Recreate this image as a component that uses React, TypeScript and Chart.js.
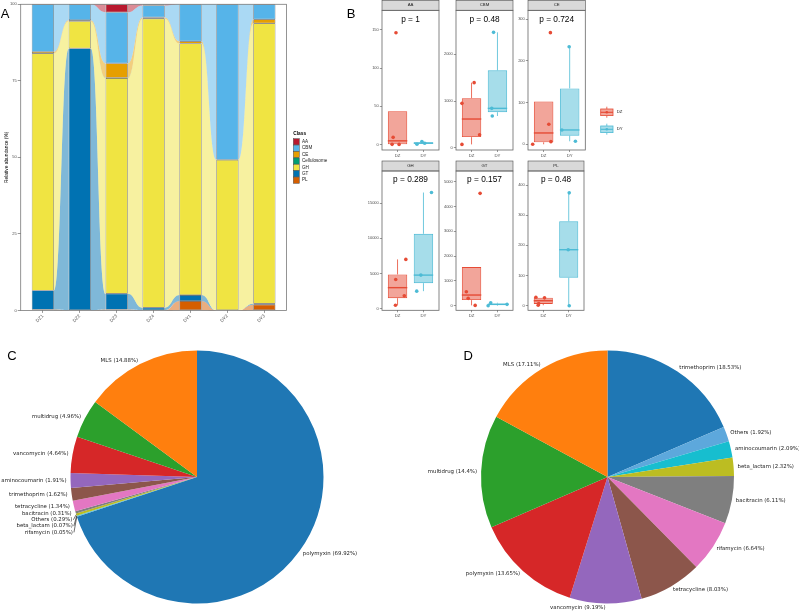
import React, { useEffect, useRef } from 'react';
import { Chart, registerables } from 'chart.js';

Chart.register(...registerables);

const SANS = '"Liberation Sans", Arial, Helvetica, sans-serif';
const DEJAVU = '"DejaVu Sans", sans-serif';

/* ---------- A: CAZyme class composition per sample (%) ---------- */
const samples = ['DZ1', 'DZ2', 'DZ3', 'DZ4', 'DY1', 'DY2', 'DY3'];
const classNames = ['AA', 'CBM', 'CE', 'Cellulosome', 'GH', 'GT', 'PL'];
const classColors = ['#B8182E', '#56B4E9', '#E69F00', '#009E73', '#F0E442', '#0072B2', '#D55E00'];
const abundanceAA = [0, 0, 2.6, 0.4, 0, 0, 0];
const abundanceCBM = [15.5, 5.2, 16.7, 3.9, 12.1, 50.8, 4.9];
const abundanceCE = [0.5, 0.3, 4.7, 0.4, 0.7, 0, 1.3];
const abundanceCellulosome = [0, 0, 0.1, 0, 0, 0, 0];
const abundanceGH = [77.5, 8.9, 70.45, 94.4, 82.2, 49.2, 91.6];
const abundanceGT = [6.2, 85.6, 5.15, 0.9, 1.95, 0, 0.35];
const abundancePL = [0.3, 0, 0.3, 0, 3.05, 0, 1.85];
const abundanceTicks = [0, 25, 50, 75, 100];

/* ---------- B: gene abundance per class, DZ vs DY ---------- */
const groups = ['DZ', 'DY'];
const groupColors = ['#E64B35', '#4DBBD5'];
const facetClasses = ['AA', 'CBM', 'CE', 'GH', 'GT', 'PL'];
const facetPValues = ['1', '0.48', '0.724', '0.289', '0.157', '0.48'];

const countsAA_DZ = [146, 9.6, 0.5, 0.4];
const countsAA_DY = [0.6, 2.0, 4.2];
const countsCBM_DZ = [950, 1393, 279, 71];
const countsCBM_DY = [2471, 843, 679];
const countsCE_DZ = [0, 268, 48, 6.4];
const countsCE_DY = [234, 34.4, 7.2];
const countsGH_DZ = [4143, 7000, 1810, 476];
const countsGH_DY = [16524, 4762, 2476];
const countsGT_DZ = [4530, 565, 296, 13];
const countsGT_DY = [0, 121, 54];
const countsPL_DZ = [28, 26, 7, 1.5];
const countsPL_DY = [374, 185.6, 0];

// horizontal jitter of the sample points, in category units
const jitterAA_DZ = [-0.06, -0.17, -0.21, 0.06];
const jitterAA_DY = [-0.25, 0.05, -0.06];
const jitterCBM_DZ = [-0.37, 0.1, 0.31, -0.37];
const jitterCBM_DY = [-0.15, -0.22, -0.2];
const jitterCE_DZ = [-0.42, 0.26, 0.2, 0.28];
const jitterCE_DY = [-0.02, -0.3, 0.22];
const jitterGH_DZ = [-0.07, 0.32, 0.26, -0.08];
const jitterGH_DY = [0.31, -0.1, -0.26];
const jitterGT_DZ = [0.33, -0.2, -0.13, 0.14];
const jitterGT_DY = [-0.36, -0.26, 0.37];
const jitterPL_DZ = [-0.29, 0.05, -0.18, -0.2];
const jitterPL_DY = [0.02, -0.02, 0.02];

const ticksAA = [0, 50, 100, 150];
const ticksCBM = [0, 1000, 2000];
const ticksCE = [0, 100, 200, 300];
const ticksGH = [0, 5000, 10000, 15000];
const ticksGT = [0, 1000, 2000, 3000, 4000, 5000];
const ticksPL = [0, 100, 200, 300, 400];

/* ---------- C / D: ARG type composition (%) ---------- */
const argNamesC = ['polymyxin', 'MLS', 'multidrug', 'vancomycin', 'aminocoumarin', 'trimethoprim', 'tetracycline', 'bacitracin', 'Others', 'beta_lactam', 'rifamycin'];
const argSharesC = [69.92, 14.88, 4.96, 4.64, 1.91, 1.62, 1.34, 0.31, 0.29, 0.07, 0.05];
const argNamesD = ['trimethoprim', 'MLS', 'multidrug', 'polymyxin', 'vancomycin', 'tetracycline', 'rifamycin', 'bacitracin', 'beta_lactam', 'aminocoumarin', 'Others'];
const argSharesD = [18.53, 17.11, 14.4, 13.65, 9.19, 8.03, 6.64, 6.11, 2.32, 2.09, 1.92];
const pieColors = ['#1f77b4', '#ff7f0e', '#2ca02c', '#d62728', '#9467bd', '#8c564b', '#e377c2', '#7f7f7f', '#bcbd22', '#17becf', '#5DA8DC'];

/* ---------- assembled tables ---------- */
const abundanceByClass = [abundanceAA, abundanceCBM, abundanceCE, abundanceCellulosome, abundanceGH, abundanceGT, abundancePL];
const stackOrder = [6, 5, 4, 3, 2, 1, 0]; // PL at the bottom, AA on top
const facetCounts = [
  [countsAA_DZ, countsAA_DY], [countsCBM_DZ, countsCBM_DY], [countsCE_DZ, countsCE_DY],
  [countsGH_DZ, countsGH_DY], [countsGT_DZ, countsGT_DY], [countsPL_DZ, countsPL_DY],
];
const facetJitter = [
  [jitterAA_DZ, jitterAA_DY], [jitterCBM_DZ, jitterCBM_DY], [jitterCE_DZ, jitterCE_DY],
  [jitterGH_DZ, jitterGH_DY], [jitterGT_DZ, jitterGT_DY], [jitterPL_DZ, jitterPL_DY],
];
const facetTicks = [ticksAA, ticksCBM, ticksCE, ticksGH, ticksGT, ticksPL];

/* ---------- layout ---------- */
const A_CANVAS = { left: 0, top: 0, width: 345, height: 330 };
const A_PLOT = { left: 20.7, top: 4.3, right: 286.5, bottom: 310.4 };

const facetCols = [
  { left: 381.5, right: 439.2 },
  { left: 455.7, right: 513.3 },
  { left: 528, right: 585.3 },
];
const facetRows = [
  { stripTop: 0.3, top: 10.3, bottom: 150, canvasTop: 0, canvasBottom: 161 },
  { stripTop: 161, top: 171, bottom: 310.3, canvasTop: 160, canvasBottom: 323 },
];
const facetYRange = [[-6.9, 175.3], [-49, 2943], [-13.7, 321.6], [-250, 19590], [-185, 5431], [-15.2, 446.4]];

const PIE_C = { left: 0, top: 330, width: 400, height: 281, padding: { left: 70.5, top: 20.5, right: 76.5, bottom: 7.5 } };
const PIE_D = { left: 400, top: 330, width: 399, height: 281, padding: { left: 81, top: 20.5, right: 65, bottom: 7.5 } };

function hexToRgba(hex: string, a: number) {
  const n = parseInt(hex.slice(1), 16);
  return `rgba(${(n >> 16) & 255},${(n >> 8) & 255},${n & 255},${a})`;
}

function quantile7(sorted: number[], p: number) {
  const h = (sorted.length - 1) * p;
  const lo = Math.floor(h);
  const hi = Math.min(lo + 1, sorted.length - 1);
  return sorted[lo] + (h - lo) * (sorted[hi] - sorted[lo]);
}

function boxStats(values: number[]) {
  const s = [...values].sort((a, b) => a - b);
  const q1 = quantile7(s, 0.25);
  const med = quantile7(s, 0.5);
  const q3 = quantile7(s, 0.75);
  const iqr = q3 - q1;
  const inside = s.filter((v) => v >= q1 - 1.5 * iqr && v <= q3 + 1.5 * iqr);
  return { q1, med, q3, lo: inside[0], hi: inside[inside.length - 1] };
}

function line(ctx: CanvasRenderingContext2D, x0: number, y0: number, x1: number, y1: number) {
  ctx.beginPath();
  ctx.moveTo(x0, y0);
  ctx.lineTo(x1, y1);
  ctx.stroke();
}

/* ---------- A: stacked bars with alluvial flows ---------- */
const flowPlugin = {
  id: 'alluvialFlows',
  beforeDatasetsDraw(chart: any) {
    const { ctx } = chart;
    ctx.save();
    chart.data.datasets.forEach((ds: any, d: number) => {
      const meta = chart.getDatasetMeta(d);
      ctx.fillStyle = hexToRgba(ds.backgroundColor, 0.5);
      for (let i = 0; i < meta.data.length - 1; i++) {
        const a: any = meta.data[i];
        const b: any = meta.data[i + 1];
        if (Math.abs(a.base - a.y) < 0.01 && Math.abs(b.base - b.y) < 0.01) continue;
        const x0 = a.x + a.width / 2;
        const x1 = b.x - b.width / 2;
        const xm = (x0 + x1) / 2;
        ctx.beginPath();
        ctx.moveTo(x0, a.y);
        ctx.bezierCurveTo(xm, a.y, xm, b.y, x1, b.y);
        ctx.lineTo(x1, b.base);
        ctx.bezierCurveTo(xm, b.base, xm, a.base, x0, a.base);
        ctx.closePath();
        ctx.fill();
      }
    });
    ctx.restore();
  },
  afterDraw(chart: any) {
    const { ctx, chartArea } = chart;
    ctx.save();
    // panel frame
    ctx.strokeStyle = '#7a7a7a';
    ctx.lineWidth = 0.8;
    ctx.strokeRect(chartArea.left, chartArea.top, chartArea.right - chartArea.left, chartArea.bottom - chartArea.top);
    // y axis title
    ctx.translate(6.7, (chartArea.top + chartArea.bottom) / 2);
    ctx.rotate(-Math.PI / 2);
    ctx.fillStyle = '#000';
    ctx.font = `4.8px ${SANS}`;
    ctx.textAlign = 'center';
    ctx.textBaseline = 'middle';
    ctx.fillText('Relative abundance (%)', 0, 0);
    ctx.restore();

    // legend
    ctx.save();
    ctx.textAlign = 'left';
    ctx.textBaseline = 'middle';
    ctx.fillStyle = '#000';
    ctx.font = `bold 4.8px ${SANS}`;
    ctx.fillText('Class', 293.3, 133.3);
    ctx.font = `4.6px ${SANS}`;
    classNames.forEach((name, k) => {
      const cy = 141.8 + k * 6.4;
      ctx.fillStyle = classColors[k];
      ctx.fillRect(293.3, cy - 3.1, 6, 6.2);
      ctx.strokeStyle = '#4a4a4a';
      ctx.lineWidth = 0.5;
      ctx.strokeRect(293.3, cy - 3.1, 6, 6.2);
      ctx.fillStyle = '#1a1a1a';
      ctx.fillText(name, 302, cy);
    });
    ctx.restore();
  },
};

function makeAbundanceChart(canvas: HTMLCanvasElement) {
  const datasets = stackOrder.map((ci) => ({
    label: classNames[ci],
    data: abundanceByClass[ci].map((v, i) => ({ x: i + 1, y: v })),
    backgroundColor: classColors[ci],
    borderColor: '#4a4a4a',
    borderWidth: 0.6,
    borderSkipped: false,
    barPercentage: 0.6,
    categoryPercentage: 1,
  }));
  return new Chart(canvas, {
    type: 'bar',
    data: { datasets } as any,
    options: {
      animation: false,
      responsive: false,
      events: [],
      layout: { padding: { left: 0, top: A_PLOT.top, right: A_CANVAS.width - A_PLOT.right, bottom: 0 } },
      plugins: { legend: { display: false }, tooltip: { enabled: false } },
      scales: {
        x: {
          type: 'linear',
          min: 0.4,
          max: 7.6,
          stacked: true,
          offset: false,
          afterBuildTicks: (s: any) => {
            s.ticks = samples.map((_, i) => ({ value: i + 1 }));
          },
          afterFit: (s: any) => {
            s.height = A_CANVAS.height - A_PLOT.bottom;
          },
          ticks: {
            callback: (v: any) => samples[v - 1] ?? '',
            minRotation: 45,
            maxRotation: 45,
            autoSkip: false,
            padding: 0.5,
            color: '#4D4D4D',
            font: { size: 4.6, family: SANS },
          },
          grid: { drawOnChartArea: false, offset: false, tickLength: 2.5, color: '#333', lineWidth: 0.5 },
          border: { display: false },
        },
        y: {
          type: 'linear',
          min: 0,
          max: 100,
          stacked: true,
          afterBuildTicks: (s: any) => {
            s.ticks = abundanceTicks.map((v) => ({ value: v }));
          },
          afterFit: (s: any) => {
            s.width = A_PLOT.left;
          },
          ticks: { callback: (v: any) => String(v), padding: 1, color: '#4D4D4D', font: { size: 4, family: SANS } },
          grid: { drawOnChartArea: false, tickLength: 3, color: '#333', lineWidth: 0.5 },
          border: { display: false },
        },
      },
    } as any,
    plugins: [flowPlugin],
  });
}

/* ---------- B: faceted boxplots ---------- */
function facetGeometry(f: number) {
  const col = facetCols[f % 3];
  const row = facetRows[Math.floor(f / 3)];
  const left = col.left - 16;
  const width = Math.round((f === 2 ? 645 : col.right + 3) - left);
  const top = row.canvasTop;
  const height = row.canvasBottom - row.canvasTop;
  return { col, row, left, top, width, height };
}

function makeFacetChart(canvas: HTMLCanvasElement, f: number) {
  const g = facetGeometry(f);
  const stats = facetCounts[f].map((vals) => boxStats(vals));
  const panel = {
    left: g.col.left - g.left,
    right: g.col.right - g.left,
    top: g.row.top - g.top,
    bottom: g.row.bottom - g.top,
    stripTop: g.row.stripTop - g.top,
  };
  const [yMin, yMax] = facetYRange[f];

  const boxPlugin = {
    id: 'boxWhiskers',
    afterDatasetDraw(chart: any, args: any) {
      if (args.index !== 0) return;
      const { ctx } = chart;
      const y = chart.scales.y;
      const meta = chart.getDatasetMeta(0);
      ctx.save();
      stats.forEach((st, k) => {
        const el: any = meta.data[k];
        const cx = el.x;
        const hw = el.width / 2;
        ctx.strokeStyle = groupColors[k];
        ctx.lineWidth = 0.8;
        if (st.hi > st.q3) line(ctx, cx, y.getPixelForValue(st.q3), cx, y.getPixelForValue(st.hi));
        if (st.lo < st.q1) line(ctx, cx, y.getPixelForValue(st.q1), cx, y.getPixelForValue(st.lo));
        ctx.lineWidth = 1.4;
        const my = y.getPixelForValue(st.med);
        line(ctx, cx - hw, my, cx + hw, my);
      });
      ctx.restore();
    },
    afterDraw(chart: any) {
      const { ctx, chartArea } = chart;
      const w = chartArea.right - chartArea.left;
      ctx.save();
      // strip
      ctx.fillStyle = '#D9D9D9';
      ctx.fillRect(chartArea.left, panel.stripTop, w, chartArea.top - panel.stripTop);
      ctx.strokeStyle = '#4d4d4d';
      ctx.lineWidth = 0.6;
      ctx.strokeRect(chartArea.left, panel.stripTop, w, chartArea.top - panel.stripTop);
      ctx.fillStyle = '#1a1a1a';
      ctx.font = `4.3px ${SANS}`;
      ctx.textAlign = 'center';
      ctx.textBaseline = 'middle';
      ctx.fillText(facetClasses[f], chartArea.left + w / 2, (panel.stripTop + chartArea.top) / 2);
      // panel border
      ctx.strokeStyle = '#666';
      ctx.lineWidth = 0.8;
      ctx.strokeRect(chartArea.left, chartArea.top, w, chartArea.bottom - chartArea.top);
      // p value
      ctx.fillStyle = '#000';
      ctx.font = `8.3px ${SANS}`;
      ctx.fillText(`p = ${facetPValues[f]}`, chartArea.left + w / 2, chartArea.top + 9);

      if (f === 2) {
        // group legend
        const ox = -g.left;
        const oy = -g.top;
        [112.3, 129.3].forEach((cy, k) => {
          const c = groupColors[k];
          ctx.strokeStyle = c;
          ctx.lineWidth = 0.8;
          line(ctx, 606.8 + ox, cy - 5.6 + oy, 606.8 + ox, cy + 5.4 + oy);
          ctx.fillStyle = '#fff';
          ctx.fillRect(600.7 + ox, cy - 3.3 + oy, 12.3, 6.6);
          ctx.fillStyle = hexToRgba(c, 0.5);
          ctx.fillRect(600.7 + ox, cy - 3.3 + oy, 12.3, 6.6);
          ctx.strokeRect(600.7 + ox, cy - 3.3 + oy, 12.3, 6.6);
          ctx.lineWidth = 1.1;
          line(ctx, 600.7 + ox, cy + oy, 613 + ox, cy + oy);
          ctx.fillStyle = c;
          ctx.beginPath();
          ctx.arc(606.8 + ox, cy + oy, 1.3, 0, Math.PI * 2);
          ctx.fill();
          ctx.fillStyle = '#1a1a1a';
          ctx.font = `4.3px ${SANS}`;
          ctx.textAlign = 'left';
          ctx.fillText(groups[k], 616.7 + ox, cy + oy);
        });
      }
      ctx.restore();
    },
  };

  const datasets: any[] = [
    {
      type: 'bar',
      data: stats.map((st, k) => ({ x: k + 1, y: [st.q1, st.q3] })),
      backgroundColor: groupColors.map((c) => hexToRgba(c, 0.5)),
      borderColor: groupColors,
      borderWidth: 0.9,
      borderSkipped: false,
      barPercentage: 0.75,
      categoryPercentage: 1,
      order: 2,
    },
  ];
  facetCounts[f].forEach((vals, k) => {
    datasets.push({
      type: 'scatter',
      data: vals.map((v, j) => ({ x: k + 1 + facetJitter[f][k][j], y: v })),
      backgroundColor: groupColors[k],
      borderWidth: 0,
      pointRadius: 1.8,
      order: 0,
    });
  });

  return new Chart(canvas, {
    type: 'bar',
    data: { datasets },
    options: {
      animation: false,
      responsive: false,
      events: [],
      layout: { padding: { left: 0, top: panel.top, right: g.width - panel.right, bottom: 0 } },
      plugins: { legend: { display: false }, tooltip: { enabled: false } },
      scales: {
        x: {
          type: 'linear',
          min: 0.4,
          max: 2.6,
          offset: false,
          afterBuildTicks: (s: any) => {
            s.ticks = groups.map((_, i) => ({ value: i + 1 }));
          },
          afterFit: (s: any) => {
            s.height = g.height - panel.bottom;
          },
          ticks: {
            callback: (v: any) => groups[v - 1] ?? '',
            maxRotation: 0,
            autoSkip: false,
            padding: 1,
            color: '#4D4D4D',
            font: { size: 4.3, family: SANS },
          },
          grid: { drawOnChartArea: false, offset: false, tickLength: 2, color: '#333', lineWidth: 0.5 },
          border: { display: false },
        },
        y: {
          type: 'linear',
          min: yMin,
          max: yMax,
          afterBuildTicks: (s: any) => {
            s.ticks = facetTicks[f].map((v) => ({ value: v }));
          },
          afterFit: (s: any) => {
            s.width = panel.left;
          },
          ticks: { callback: (v: any) => String(v), padding: 1, color: '#4D4D4D', font: { size: 4, family: SANS } },
          grid: { drawOnChartArea: false, tickLength: 2.2, color: '#333', lineWidth: 0.5 },
          border: { display: false },
        },
      },
    } as any,
    plugins: [boxPlugin],
  });
}

/* ---------- C / D: pies with outside labels ---------- */
const pieLabelPlugin = {
  id: 'pieLabels',
  afterDraw(chart: any) {
    const { ctx } = chart;
    const meta = chart.getDatasetMeta(0);
    const values = chart.data.datasets[0].data;
    const items = meta.data.map((arc: any, k: number) => {
      const p = arc.getProps(['startAngle', 'endAngle', 'outerRadius', 'x', 'y'], true);
      const mid = (p.startAngle + p.endAngle) / 2;
      const r = p.outerRadius * 1.032;
      const ly = p.y + Math.sin(mid) * r;
      return {
        text: `${chart.data.labels[k]} (${values[k]}%)`,
        right: Math.cos(mid) >= 0,
        ex: p.x + Math.cos(mid) * p.outerRadius,
        ey: p.y + Math.sin(mid) * p.outerRadius,
        lx: p.x + Math.cos(mid) * r,
        ly,
        y0: ly,
      };
    });
    // keep neighbouring labels on the same side from overlapping
    const gap = 6.3;
    [true, false].forEach((side) => {
      const list = items.filter((it: any) => it.right === side).sort((a: any, b: any) => a.ly - b.ly);
      for (let k = 1; k < list.length; k++) {
        if (list[k].ly < list[k - 1].ly + gap) list[k].ly = list[k - 1].ly + gap;
      }
    });
    ctx.save();
    ctx.font = `5.4px ${DEJAVU}`;
    ctx.textBaseline = 'middle';
    items.forEach((it: any) => {
      if (it.ly - it.y0 > 0.5) {
        ctx.strokeStyle = '#111';
        ctx.lineWidth = 0.6;
        line(ctx, it.ex, it.ey, it.lx + (it.right ? -1 : 1), it.ly);
      }
      ctx.fillStyle = '#1a1a1a';
      ctx.textAlign = it.right ? 'left' : 'right';
      ctx.fillText(it.text, it.lx, it.ly);
    });
    ctx.restore();
  },
};

function makePieChart(canvas: HTMLCanvasElement, names: string[], shares: number[], geom: typeof PIE_C) {
  // first wedge ends at 12 o'clock, the rest follow counter-clockwise
  const order = [0, ...names.map((_, i) => i).slice(1).reverse()];
  return new Chart(canvas, {
    type: 'pie',
    data: {
      labels: order.map((i) => names[i]),
      datasets: [
        {
          data: order.map((i) => shares[i]),
          backgroundColor: order.map((i) => pieColors[i]),
          borderWidth: 0,
          hoverOffset: 0,
        },
      ],
    },
    options: {
      animation: false,
      responsive: false,
      events: [],
      rotation: 0,
      layout: { padding: geom.padding },
      plugins: { legend: { display: false }, tooltip: { enabled: false } },
    } as any,
    plugins: [pieLabelPlugin],
  });
}

const panelLetters = [
  { text: 'A', x: 0.7, baseline: 18.3 },
  { text: 'B', x: 346.7, baseline: 18.3 },
  { text: 'C', x: 7.3, baseline: 360 },
  { text: 'D', x: 463.5, baseline: 359.5 },
];

export default function App() {
  const aRef = useRef<HTMLCanvasElement>(null);
  const facetRefs = useRef<(HTMLCanvasElement | null)[]>([]);
  const cRef = useRef<HTMLCanvasElement>(null);
  const dRef = useRef<HTMLCanvasElement>(null);

  useEffect(() => {
    const charts: Chart[] = [];
    charts.push(makeAbundanceChart(aRef.current!));
    facetClasses.forEach((_, f) => charts.push(makeFacetChart(facetRefs.current[f]!, f)));
    charts.push(makePieChart(cRef.current!, argNamesC, argSharesC, PIE_C));
    charts.push(makePieChart(dRef.current!, argNamesD, argSharesD, PIE_D));
    return () => charts.forEach((c) => c.destroy());
  }, []);

  const abs = (l: number, t: number, w: number, h: number): React.CSSProperties => ({
    position: 'absolute',
    left: l,
    top: t,
    width: w,
    height: h,
  });

  return (
    <div style={{ position: 'absolute', left: 0, top: 0, width: 799, height: 611, background: '#fff', overflow: 'hidden' }}>
      <canvas ref={aRef} width={A_CANVAS.width} height={A_CANVAS.height} style={abs(A_CANVAS.left, A_CANVAS.top, A_CANVAS.width, A_CANVAS.height)} />
      {facetClasses.map((name, f) => {
        const g = facetGeometry(f);
        return (
          <canvas
            key={name}
            ref={(el) => {
              facetRefs.current[f] = el;
            }}
            width={g.width}
            height={g.height}
            style={abs(g.left, g.top, g.width, g.height)}
          />
        );
      })}
      <canvas ref={cRef} width={PIE_C.width} height={PIE_C.height} style={abs(PIE_C.left, PIE_C.top, PIE_C.width, PIE_C.height)} />
      <canvas ref={dRef} width={PIE_D.width} height={PIE_D.height} style={abs(PIE_D.left, PIE_D.top, PIE_D.width, PIE_D.height)} />
      {panelLetters.map((p) => (
        <div
          key={p.text}
          style={{
            position: 'absolute',
            left: p.x,
            top: p.baseline - 11,
            font: `13px ${SANS}`,
            lineHeight: '13px',
            color: '#000',
          }}
        >
          {p.text}
        </div>
      ))}
    </div>
  );
}
